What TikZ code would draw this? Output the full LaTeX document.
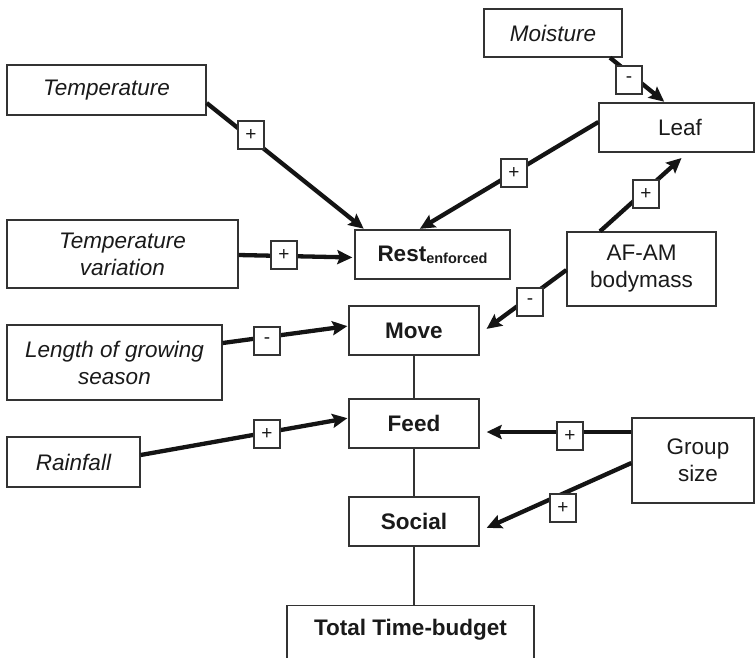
\documentclass[tikz,border=0pt]{standalone}
\usepackage{fontspec}
\setmainfont{Liberation Sans}
\usetikzlibrary{arrows.meta}
\definecolor{boxgray}{HTML}{333333}
\definecolor{txt}{HTML}{1A1A1A}
\definecolor{arr}{HTML}{141414}
\begin{document}
\begin{tikzpicture}[x=1pt,y=-1pt,
  box/.style={draw=boxgray, line width=1.3pt, rectangle, inner sep=0pt, align=center,
    text=txt, font=\fontsize{22.5pt}{27pt}\selectfont},
  inbox/.style={box, font=\fontsize{22.5pt}{27pt}\selectfont\itshape},
  actbox/.style={box, font=\fontsize{22.5pt}{27pt}\selectfont\bfseries},
  sign/.style={draw=boxgray, fill=white, line width=1.2pt, minimum width=26pt,
    minimum height=28pt, inner sep=0pt, text=txt, font=\fontsize{19pt}{20pt}\selectfont},
  effect/.style={draw=arr, line width=4.3pt, -{Stealth[length=15pt,width=14pt,inset=2.5pt]}},
  link/.style={draw=boxgray, line width=1.3pt}
]
\useasboundingbox (0,0) rectangle (755,657);
\clip (0,0) rectangle (755,657);

% input boxes
\node[inbox, minimum width=199pt, minimum height=50pt] (temp) at (106.5,90) {Temperature};
\node[inbox, minimum width=231pt, minimum height=68pt] (tvar) at (122.5,254) {Temperature\\variation};
\node[inbox, minimum width=138pt, minimum height=48pt] (moist) at (553,33) {Moisture};
\node[inbox, minimum width=215pt, minimum height=75pt] (lgs) at (114.5,362.5) {Length of growing\\season};
\node[inbox, minimum width=133pt, minimum height=50pt] (rain) at (73.5,462) {Rainfall};

% intermediate boxes
\node[box, minimum width=155pt, minimum height=49pt] (leaf) at (676.5,127.5) {\hspace*{7pt}Leaf};
\node[box, minimum width=149pt, minimum height=74pt] (afam) at (641.5,269) {AF-AM\\bodymass};
\node[box, minimum width=122pt, minimum height=85pt] (group) at (693,460.5) {\hspace*{10pt}Group\\\hspace*{10pt}size};

% activity boxes
\node[actbox, minimum width=155pt, minimum height=49pt] (rest) at (432.5,254.5)
  {Rest\raisebox{-2pt}{\fontsize{14.5pt}{16pt}\selectfont enforced}};
\node[actbox, minimum width=130pt, minimum height=49pt] (move) at (414,330.5) {Move};
\node[actbox, minimum width=130pt, minimum height=49pt] (feed) at (414,423.5) {Feed};
\node[actbox, minimum width=130pt, minimum height=49pt] (social) at (414,521.5) {Social};
\node[actbox, anchor=north, minimum width=247pt, text height=24pt, text depth=45pt,
  inner ysep=6pt] (total) at (410.5,605) {Total Time-budget};

% plain links
\draw[link] (move.south) -- (feed.north);
\draw[link] (feed.south) -- (social.north);
\draw[link] (social.south) -- (social.south |- total.north);

% effects
\draw[effect, shorten >=1pt] ([yshift=-13pt]temp.east) -- ([xshift=-68pt]rest.north);
\draw[effect, shorten >=2pt] ([yshift=-1pt]tvar.east) -- ([yshift=-3pt]rest.west);
\draw[effect, shorten >=1pt] ([xshift=57pt]moist.south) -- ([xshift=-11.5pt]leaf.north);
\draw[effect, shorten >=1pt] ([yshift=5.5pt]leaf.west) -- ([xshift=-13.5pt]rest.north);
\draw[effect, shorten >=8pt] ([xshift=-41.5pt]afam.north) -- ([xshift=11pt]leaf.south);
\draw[effect, shorten >=8.6pt] ([yshift=-1pt]afam.west) -- ([yshift=-3.5pt]move.east);
\draw[effect, shorten >=1pt] ([yshift=19.5pt]lgs.east) -- ([yshift=4.5pt]move.west);
\draw[effect, shorten >=1pt] ([yshift=7pt]rain.east) -- ([yshift=5.5pt]feed.west);
\draw[effect, shorten >=7pt] ([yshift=28.5pt]group.west) -- ([yshift=-8.5pt]feed.east);
\draw[effect, shorten >=7.7pt] ([yshift=-2.5pt]group.west) -- ([yshift=-9.5pt]social.east);

% signs
\node[sign] (s1) at (251,135) {+};
\node[sign] (s2) at (284,255) {+};
\node[sign] (s3) at (629,80) {-};
\node[sign] (s4) at (514,173) {+};
\node[sign] (s5) at (646,194) {+};
\node[sign] (s6) at (530,302) {-};
\node[sign] (s7) at (267,341) {-};
\node[sign] (s8) at (267,434) {+};
\node[sign] (s9) at (570,436) {+};
\node[sign] (s10) at (563,508) {+};
\end{tikzpicture}
\end{document}
